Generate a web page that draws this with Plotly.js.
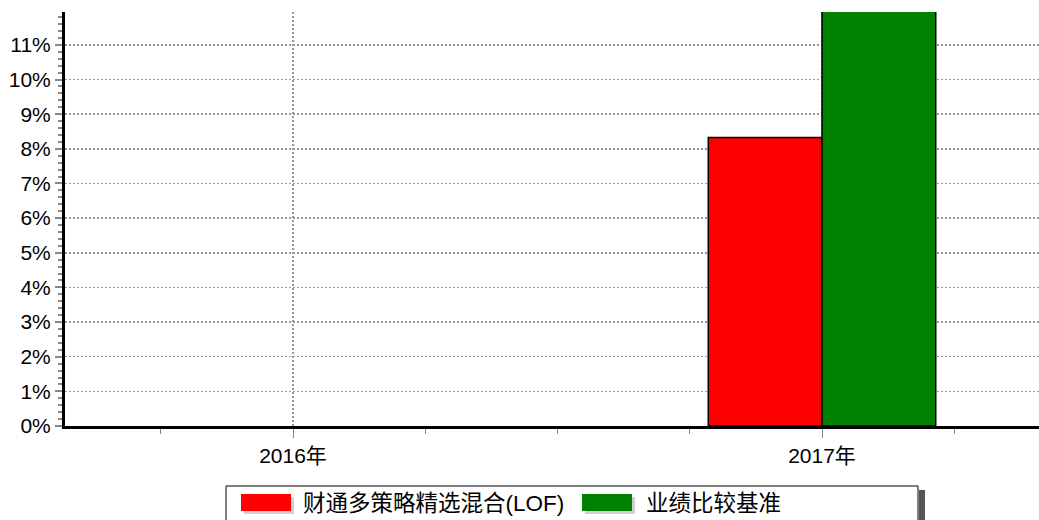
<!DOCTYPE html>
<html>
<head>
<meta charset="utf-8">
<script src="https://cdn.plot.ly/plotly-3.0.1.min.js"></script>
<style>html,body{margin:0;padding:0;background:#fff;}#chart{width:1039px;height:520px;}</style>
</head>
<body>
<div id="chart"></div>
<script>
// ---- data ----
const categories = ["2016年", "2017年"];
const seriesNames = ["财通多策略精选混合(LOF)", "业绩比较基准"];
const fundValues = [null, 8.33];
const benchmarkValues = [null, 12.3];
const yTickVals = [0,1,2,3,4,5,6,7,8,9,10,11];
const seriesColors = ["#ff0000", "#008000"];

// ---- layout helpers (pixel -> paper) ----
const L = 65, R = 1039, T = 12, B = 426;
const W = R - L, H = B - T;
const px = v => (v - L) / W;
const py = v => (B - v) / H;

const xIdx = categories.map((c, i) => i);

const traces = [
  {type:'bar', x:xIdx, y:fundValues, name:seriesNames[0],
   marker:{color:seriesColors[0], line:{color:'#000', width:1.5}}, hoverinfo:'skip'},
  {type:'bar', x:xIdx, y:benchmarkValues, name:seriesNames[1],
   marker:{color:seriesColors[1], line:{color:'#000', width:1.5}}, hoverinfo:'skip'}
];

const fontFam = '"Liberation Sans", Arial, "Noto Sans CJK SC", sans-serif';

const shapes = [
  // legend box shadow
  {type:'rect', xref:'paper', yref:'paper', x0:px(919), x1:px(925), y0:py(490), y1:py(530),
   fillcolor:'#555', line:{width:0}, layer:'above'},
  // legend box
  {type:'rect', xref:'paper', yref:'paper', x0:px(226), x1:px(918), y0:py(486), y1:py(530),
   fillcolor:'#fff', line:{color:'#000', width:1}, layer:'above'},
  // swatch shadows
  {type:'rect', xref:'paper', yref:'paper', x0:px(244), x1:px(294), y0:py(497), y1:py(514),
   fillcolor:'#cfcfcf', line:{width:0}, layer:'above'},
  {type:'rect', xref:'paper', yref:'paper', x0:px(585), x1:px(635), y0:py(497), y1:py(514),
   fillcolor:'#cfcfcf', line:{width:0}, layer:'above'},
  // swatches
  {type:'rect', xref:'paper', yref:'paper', x0:px(241), x1:px(291), y0:py(494), y1:py(511),
   fillcolor:seriesColors[0], line:{width:0}, layer:'above'},
  {type:'rect', xref:'paper', yref:'paper', x0:px(582), x1:px(632), y0:py(494), y1:py(511),
   fillcolor:seriesColors[1], line:{width:0}, layer:'above'}
];

const annotations = [
  {xref:'paper', yref:'paper', x:px(301), y:py(503), xanchor:'left', yanchor:'middle',
   text:seriesNames[0], showarrow:false, font:{family:fontFam, size:22.5, color:'#000'}},
  {xref:'paper', yref:'paper', x:px(644), y:py(503), xanchor:'left', yanchor:'middle',
   text:seriesNames[1], showarrow:false, font:{family:fontFam, size:22.5, color:'#000'}}
];

const layout = {
  width:1039, height:520,
  margin:{l:L, r:1039-R, t:T, b:520-B, pad:0},
  paper_bgcolor:'#fff', plot_bgcolor:'#fff',
  showlegend:false,
  barmode:'group', bargap:0.57, bargroupgap:0,
  font:{family:fontFam, color:'#000'},
  xaxis:{
    range:[-(293-L)/529, (R-293)/529],
    tickvals:xIdx, ticktext:categories,
    tickfont:{size:21, color:'#000'},
    showline:true, linecolor:'#000', linewidth:3,
    ticks:'outside', ticklen:9, tickcolor:'#888', tickwidth:1,
    showgrid:true, gridcolor:'#999', griddash:'2px,2px', gridwidth:1.5,
    zeroline:false, fixedrange:true,
    minor:{dtick:0.25, tick0:0, ticks:'outside', ticklen:5, tickcolor:'#888', showgrid:false},
    ticklabelstandoff:0
  },
  yaxis:{
    range:[0, 11.95],
    tickvals:yTickVals, ticktext:yTickVals.map(v => v + '%'),
    tickfont:{size:21, color:'#000'},
    showline:true, linecolor:'#000', linewidth:3,
    ticks:'outside', ticklen:7, tickcolor:'#888', tickwidth:2,
    showgrid:true, gridcolor:'#999', griddash:'2px,2px', gridwidth:1.5,
    zeroline:false, fixedrange:true,
    minor:{dtick:0.2, tick0:0, ticks:'outside', ticklen:4, tickcolor:'#888', tickwidth:2, showgrid:false}
  },
  shapes:shapes,
  annotations:annotations
};

Plotly.newPlot('chart', traces, layout, {displayModeBar:false, staticPlot:true});
</script>
</body>
</html>
